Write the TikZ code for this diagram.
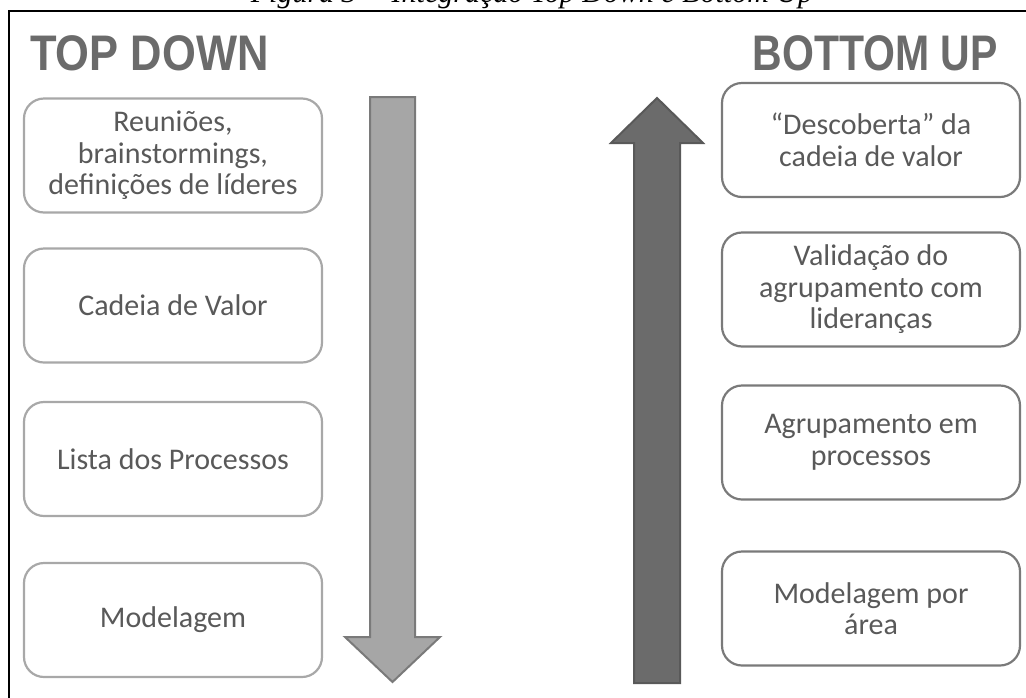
\documentclass[tikz,border=0pt]{standalone}
\usepackage{fontspec}
\setmainfont{Carlito}
\newfontfamily\headfont{Liberation Sans}
\newfontfamily\capfont{Liberation Serif}
\usepackage{tikz}

\definecolor{txtgray}{HTML}{595959}
\definecolor{headgray}{HTML}{6B6B6B}
\definecolor{lightline}{HTML}{A8A8A8}
\definecolor{darkline}{HTML}{7A7A7A}
\definecolor{downfill}{HTML}{A6A6A6}
\definecolor{upfill}{HTML}{6B6B6B}

\begin{document}
\begin{tikzpicture}[x=1pt,y=-1pt,
  box/.style={draw=#1,line width=2.2pt,rounded corners=20pt,
    minimum width=298pt,minimum height=114pt,align=center,
    text=txtgray,font=\fontsize{30}{31.5}\selectfont},
  head/.style={text=headgray,inner sep=0pt,font=\headfont\bfseries\fontsize{50}{60}\selectfont}]
\useasboundingbox (0,0) rectangle (1026,697);

% caption, cut off by the top of the page
\node (cap) [anchor=base,inner sep=0pt,font=\capfont\itshape\fontsize{30}{36}\selectfont]
  at (532,2) {Figura 3 -- Integração Top Down e Bottom Up};

% frame (open at the right and at the bottom)
\draw[line width=2pt] (9,705) -- (9,11) -- (1040,11);

% headings
\node (td) [head,anchor=base west] at (30,70) {\scalebox{.87}[1]{TOP DOWN}};
\node (bu) [head,anchor=base east] at (998,70) {\scalebox{.82}[1]{BOTTOM UP}};

% top down steps
\node (reun)   [box=lightline] at (173,155.5) {Reuniões,\\brainstormings,\\definições de líderes};
\node (cadeia) [box=lightline] at (173,305.5) {Cadeia de Valor};
\node (lista)  [box=lightline] at (173,459)   {Lista dos Processos};
\node (model)  [box=lightline] at (173,620)   {Modelagem};

% bottom up steps
\node (desc)  [box=darkline] at (871,140)   {“Descoberta” da\\cadeia de valor};
\node (valid) [box=darkline] at (871,289.5) {Validação do\\agrupamento com\\lideranças};
\node (agrup) [box=darkline] at (871,442.5) {Agrupamento em\\processos};
\node (marea) [box=darkline] at (871,608.5) {Modelagem por\\área};

% big arrows
\filldraw[fill=downfill,draw=darkline,line width=2pt,line join=miter]
  (370,97) -- (415,97) -- (415,637) -- (440,637) -- (392.5,682)
  -- (345,637) -- (370,637) -- cycle;
\filldraw[fill=upfill,draw=black!65,line width=2pt,line join=miter]
  (634,683) -- (680,683) -- (680,143) -- (703,143) -- (657,98)
  -- (611,143) -- (634,143) -- cycle;
\end{tikzpicture}
\end{document}
